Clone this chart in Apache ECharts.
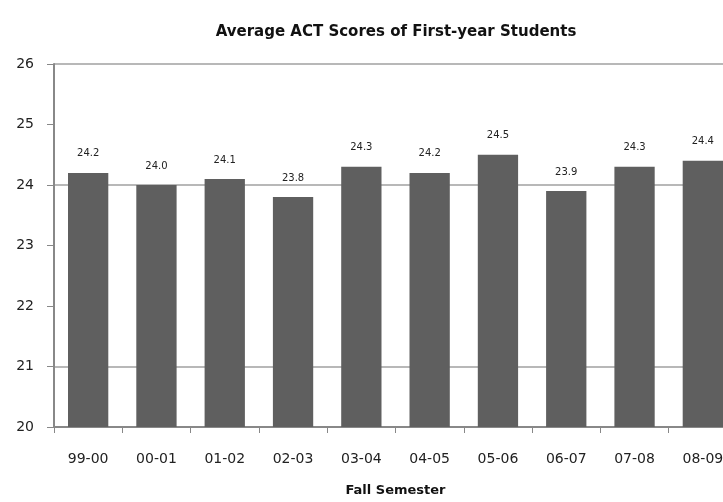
<!DOCTYPE html>
<html>
<head>
<meta charset="utf-8">
<script src="https://cdn.jsdelivr.net/npm/echarts@6/dist/echarts.min.js"></script>
<style>html,body{margin:0;padding:0;background:#fff;overflow:hidden;width:723px;height:502px}#c{width:737px;height:502px}</style>
</head>
<body>
<div id="c"></div>
<script>
var categories = ['99-00','00-01','01-02','02-03','03-04','04-05','05-06','06-07','07-08','08-09'];
var actScores = [24.2, 24.0, 24.1, 23.8, 24.3, 24.2, 24.5, 23.9, 24.3, 24.4];
var yTicks = [20, 21, 22, 23, 24, 25, 26];

var chart = echarts.init(document.getElementById('c'));
chart.setOption({
  animation: false,
  backgroundColor: '#fff',
  title: {
    text: 'Average ACT Scores of First-year Students',
    left: 391, top: 20, textAlign: 'center',
    textStyle: { fontFamily: 'DejaVu Sans', fontSize: 15, fontWeight: 'bold', color: '#111' }
  },
  grid: { left: 54, right: 0, top: 64, bottom: 72, containLabel: false },
  xAxis: {
    type: 'category',
    data: categories,
    name: 'Fall Semester',
    nameLocation: 'middle',
    nameGap: 57,
    nameTextStyle: { fontFamily: 'DejaVu Sans', fontSize: 13, fontWeight: 'bold', color: '#111' },
    axisLine: { lineStyle: { color: '#888', width: 2 } },
    axisTick: { show: true, length: 6, lineStyle: { color: '#888', width: 1 } },
    axisLabel: { margin: 25, fontFamily: 'DejaVu Sans', fontSize: 14, color: '#222' }
  },
  yAxis: {
    type: 'value',
    min: yTicks[0], max: yTicks[yTicks.length - 1], interval: 1,
    axisLine: { show: true, lineStyle: { color: '#888', width: 2 } },
    axisTick: { show: true, length: 7, lineStyle: { color: '#888' } },
    axisLabel: { margin: 20, fontFamily: 'DejaVu Sans', fontSize: 14, color: '#222' },
    splitLine: { show: true, lineStyle: { width: 2, color: ['rgba(0,0,0,0)', '#b8b8b8', 'rgba(0,0,0,0)', 'rgba(0,0,0,0)', '#b8b8b8', 'rgba(0,0,0,0)', '#b8b8b8'] } }
  },
  series: [{
    type: 'bar',
    data: actScores,
    barCategoryGap: '41%',
    itemStyle: { color: '#5f5f5f' },
    label: {
      show: true, position: 'top', distance: 14,
      formatter: function (p) { return p.value.toFixed(1); },
      fontFamily: 'DejaVu Sans', fontSize: 10, color: '#222'
    }
  }]
});
</script>
</body>
</html>
